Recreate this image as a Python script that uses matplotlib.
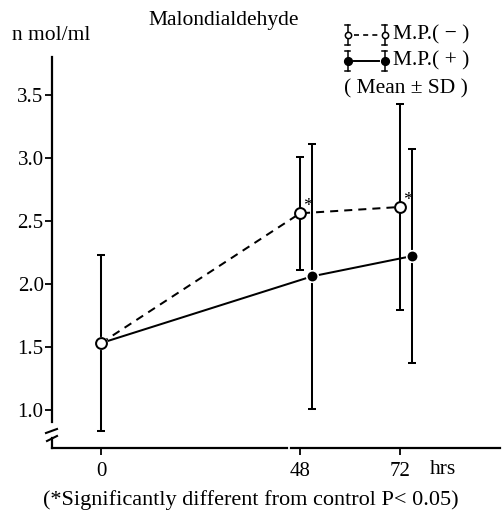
import numpy as np
import matplotlib
matplotlib.use("Agg")
import matplotlib.pyplot as plt

# values (n mol/ml)
hours = [0, 48, 72]
mp_minus_mean = [1.53, 2.56, 2.61]
mp_minus_sd = [0.70, 0.45, 0.82]
mp_plus_mean = [1.53, 2.06, 2.22]
mp_plus_sd = [0.70, 1.05, 0.85]
mp_minus_signif = [False, True, True]
y_ticks = [1.0, 1.5, 2.0, 2.5, 3.0, 3.5]
x_ticks = [0, 48, 72]

plt.rcParams['font.family'] = ['Liberation Serif', 'DejaVu Serif']

W, H = 503, 513
fig = plt.figure(figsize=(W / 100, H / 100), dpi=100)


def box(l, t, r, b):
    # pixel box -> figure fraction
    return [l / W, 1 - b / H, (r - l) / W, (b - t) / H]


ax = fig.add_axes(box(52, 57, 500, 448))
ax.set_xlim(-11.8, 96.2)
ax.set_ylim(0.698, 3.80)

x = np.array(hours, dtype=float)
# filled points are drawn slightly right of the open ones
x_plus = x + np.where(x > 0, 2.9, 0)

lw = 1.45
ax.errorbar(x_plus, mp_plus_mean, yerr=mp_plus_sd, fmt='none', ecolor='black',
            elinewidth=lw, capsize=3, capthick=lw, zorder=2)
ax.errorbar(x, mp_minus_mean, yerr=mp_minus_sd, fmt='none', ecolor='black',
            elinewidth=lw, capsize=3, capthick=lw, zorder=2)
ax.plot(x_plus, mp_plus_mean, '-', color='black', lw=lw, zorder=3)
ax.plot(x, mp_minus_mean, '--', color='black', lw=lw, dashes=(4, 3), zorder=3)
ax.plot(x_plus, mp_plus_mean, 'o', color='black', ms=8.3, mec='white', mew=1.2, zorder=4)
ax.plot(x, mp_minus_mean, 'o', color='black', mfc='white', ms=7.8, mew=lw, zorder=5)

for xi, yi, s in zip(x, mp_minus_mean, mp_minus_signif):
    if s:
        ax.annotate('*', (xi, yi), xytext=(2.5, 1.5), textcoords='offset points',
                    fontsize=14, ha='left', va='baseline')

# axes styling
for side in ['top', 'right', 'bottom']:
    ax.spines[side].set_visible(False)
ax.spines['left'].set_linewidth(1.6)
ax.spines['left'].set_bounds(0.905, 3.80)
ax.set_xticks(x_ticks)
ax.set_xticklabels([str(t) for t in x_ticks])
ax.set_yticks(y_ticks)
ax.set_yticklabels(['%.1f' % t for t in y_ticks])
ax.tick_params(axis='both', direction='out', length=5, width=1.3, labelsize=15)
ax.tick_params(axis='y', pad=1)
ax.tick_params(axis='x', pad=5)

# broken x axis
xt = ax.get_xaxis_transform()
ax.plot([-11.8, 44.9], [0, 0], color='black', lw=1.6, transform=xt, clip_on=False)
ax.plot([45.8, 96.2], [0, 0], color='black', lw=1.6, transform=xt, clip_on=False)

# overlay in pixel coordinates for the decorations
ov = fig.add_axes([0, 0, 1, 1])
ov.set_xlim(0, W)
ov.set_ylim(H, 0)
ov.axis('off')

# y axis break marks
ov.plot([46, 57], [433, 429], color='black', lw=1.5)
ov.plot([47, 57], [441, 436], color='black', lw=1.5)
ov.plot([52, 52], [438, 448], color='black', lw=1.6)

# hand-drawn legend
for yy, ls, filled, label in [(35, '--', False, 'M.P.( − )'), (61, '-', True, 'M.P.( + )')]:
    for xx in (348, 385):
        ov.plot([xx, xx], [yy - 10, yy + 10], color='black', lw=1.1)
        ov.plot([xx - 2.5, xx + 2.5], [yy - 10, yy - 10], color='black', lw=1.1)
        ov.plot([xx - 2.5, xx + 2.5], [yy + 10, yy + 10], color='black', lw=1.1)
        ov.plot(xx, yy, 'o', color='black', mfc='black' if filled else 'white',
                ms=5.5 if filled else 4.5, mew=1.1, zorder=3)
    if filled:
        ov.plot([354, 379], [yy, yy], '-', color='black', lw=1.4)
    else:
        ov.plot([354, 379], [yy, yy], '--', color='black', lw=1.2, dashes=(3, 2.5))
    ov.text(393, yy, label, fontsize=15.5, ha='left', va='center')
ov.text(344, 89, '( Mean ± SD )', fontsize=15.5, ha='left', va='center')

ov.text(148, 21, 'Malondialdehyde', fontsize=15.5, ha='left', va='center')
ov.text(12, 36, 'n mol/ml', fontsize=15.5, ha='left', va='center')
ov.text(430, 470, 'hrs', fontsize=15.5, ha='left', va='center')
ov.text(251, 500, '(*Significantly different from control P< 0.05)',
        fontsize=16, ha='center', va='center')

fig.savefig('out.png', dpi=100)
